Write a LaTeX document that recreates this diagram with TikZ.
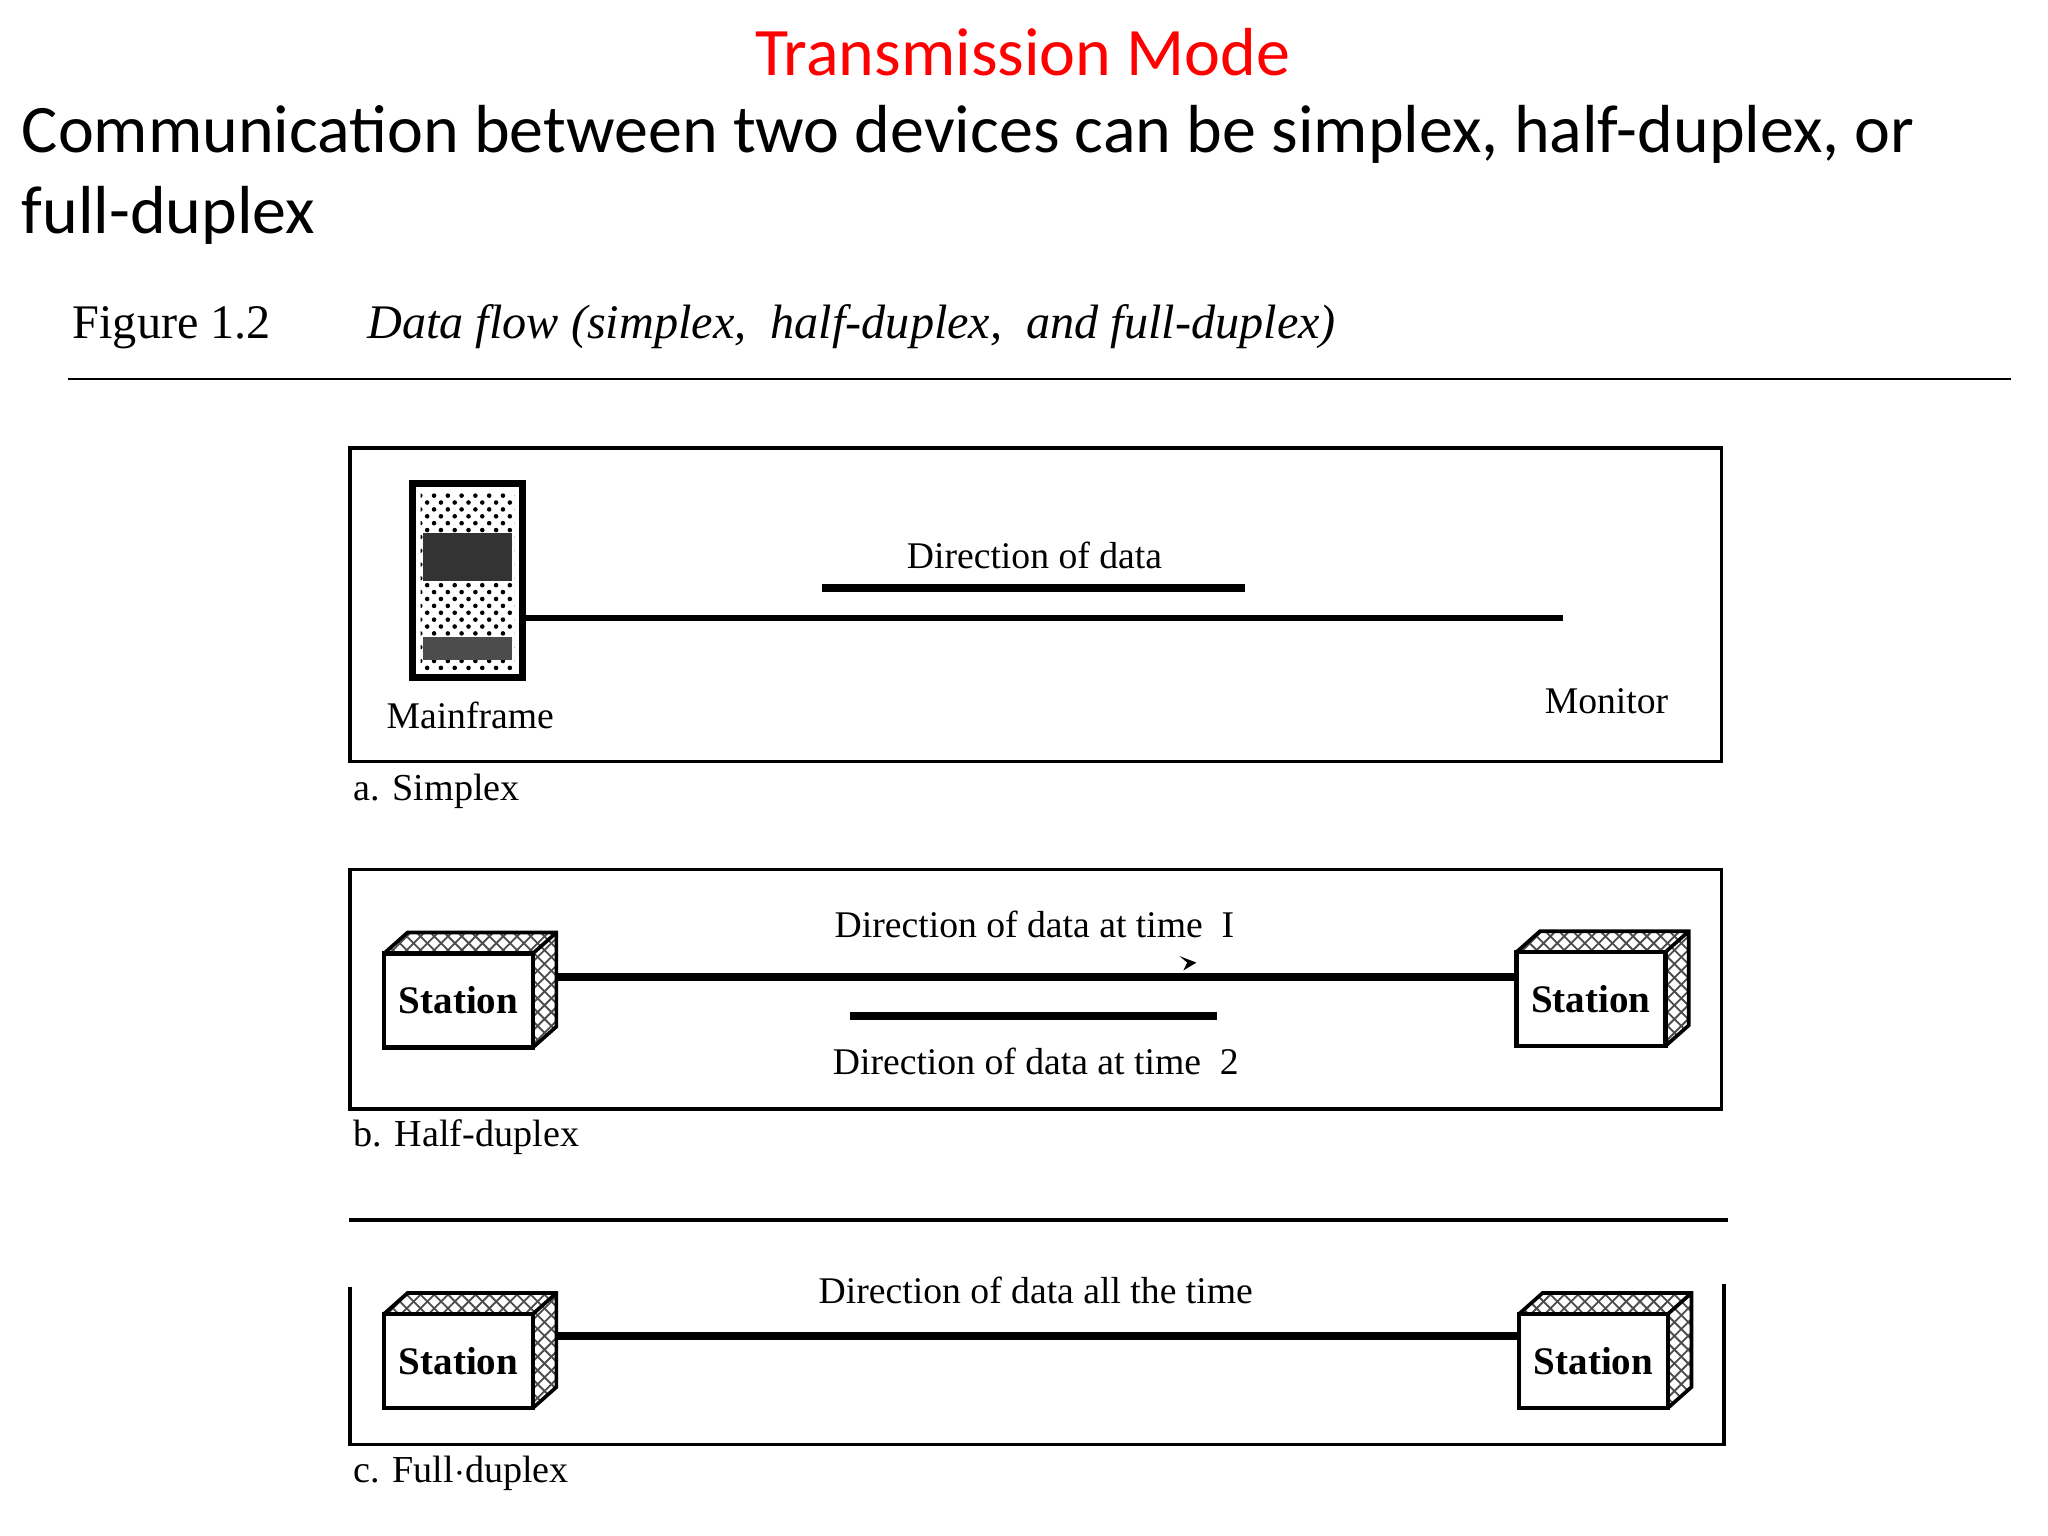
\documentclass[tikz,border=0pt]{standalone}
\usepackage{fontspec}
\setmainfont{Liberation Serif}
\newfontfamily\calib{Carlito}
\usetikzlibrary{patterns}
\begin{document}
\begin{tikzpicture}[x=0.01cm,y=-0.01cm,
  frame/.style={line width=0.7pt},
  thick line/.style={line width=1.3pt},
  bar/.style={line width=1.7pt},
  lab/.style={inner sep=0pt,font=\fontsize{8.2}{9}\selectfont},
  stlab/.style={inner sep=0pt,font=\fontsize{8.5}{9}\selectfont\bfseries},
  sublab/.style={inner sep=0pt,anchor=west,font=\fontsize{8.3}{9}\selectfont}]
\useasboundingbox (0,0) rectangle (1568,1176);
\node[inner sep=0pt,text=red,font=\calib\fontsize{14.8}{16}\selectfont] (title) at (783,40) {Transmission Mode};
\node[inner sep=0pt,anchor=west,font=\calib\fontsize{14.8}{16}\selectfont] (l1) at (16,103) {Communication between two devices can be simplex, half-duplex, or};
\node[inner sep=0pt,anchor=west,font=\calib\fontsize{14.8}{16}\selectfont] (l2) at (16,165) {full-duplex};
\node[inner sep=0pt,anchor=west,font=\fontsize{10.5}{12}\selectfont] (fig) at (55,250) {Figure 1.2\qquad\itshape Data flow (simplex,\ \ half-duplex,\ \ and full-duplex)};
\draw (52,290) -- (1540,290);
% a
\draw[frame] (268,343) rectangle (1318,583);
\draw[line width=1.5pt] (316,370) rectangle (400,519);
\fill[pattern=crosshatch dots,pattern color=black] (322,376) rectangle (394,513);
\fill[black!80] (324,408) rectangle (392,445);
\fill[black!70] (324,488) rectangle (392,505);
\node[inner sep=0pt] (mf) at (358,445) {};
\coordinate (mfr) at (403,473);
\coordinate (mon) at (1197,473);
\draw[thick line] (mfr) -- (mon);
\draw[bar] (629,450) -- (953,450);
\node[lab] at (792,425) {Direction of data};
\node[lab] at (360,548) {Mainframe};
\node[lab] at (1230,537) {Monitor};
\node[sublab] at (270,606) {a. Simplex};
\tikzset{station/.pic={
  \fill[pattern=crosshatch,pattern color=black!70] (0,0) -- (18,-16) -- (132,-16) -- (132,56) -- (114,72) -- (114,0) -- cycle;
  \draw[line width=0.8pt] (0,0) -- (18,-16) -- (132,-16) -- (132,56) -- (114,72) (114,0) -- (132,-16);
  \draw[line width=1pt,fill=white] (0,0) rectangle (114,72);
  \node[stlab] at (57,36) {Station};
}}
% b
\draw[frame] (268,666) rectangle (1318,849);
\pic at (294,730) {station};
\pic at (1161,729) {station};
\coordinate (s1r) at (426,748);
\coordinate (s2l) at (1161,748);
\draw[bar] (s1r) -- (s2l);
\draw[bar] (651,778) -- (932,778);
\fill (903,732) -- (916,737) -- (906,743) -- (909,737) -- cycle;
\node[lab] at (792,708) {Direction of data at time\ \ I};
\node[lab] at (793,813) {Direction of data at time\ \ 2};
\node[sublab] at (270,871) {b. Half-duplex};
% c
\draw[line width=0.7pt] (267,934) -- (1323,934);
\draw[frame] (268,985) -- (268,1106) -- (1320,1106) -- (1320,983);
\pic at (294,1006) {station};
\pic at (1163,1006) {station};
\coordinate (s3r) at (426,1023);
\coordinate (s4l) at (1163,1023);
\draw[bar] (s3r) -- (s4l);
\node[lab] at (793,988) {Direction of data all the time};
\node[sublab] at (270,1128) {c. Full$\cdot$duplex};
\end{tikzpicture}
\end{document}
